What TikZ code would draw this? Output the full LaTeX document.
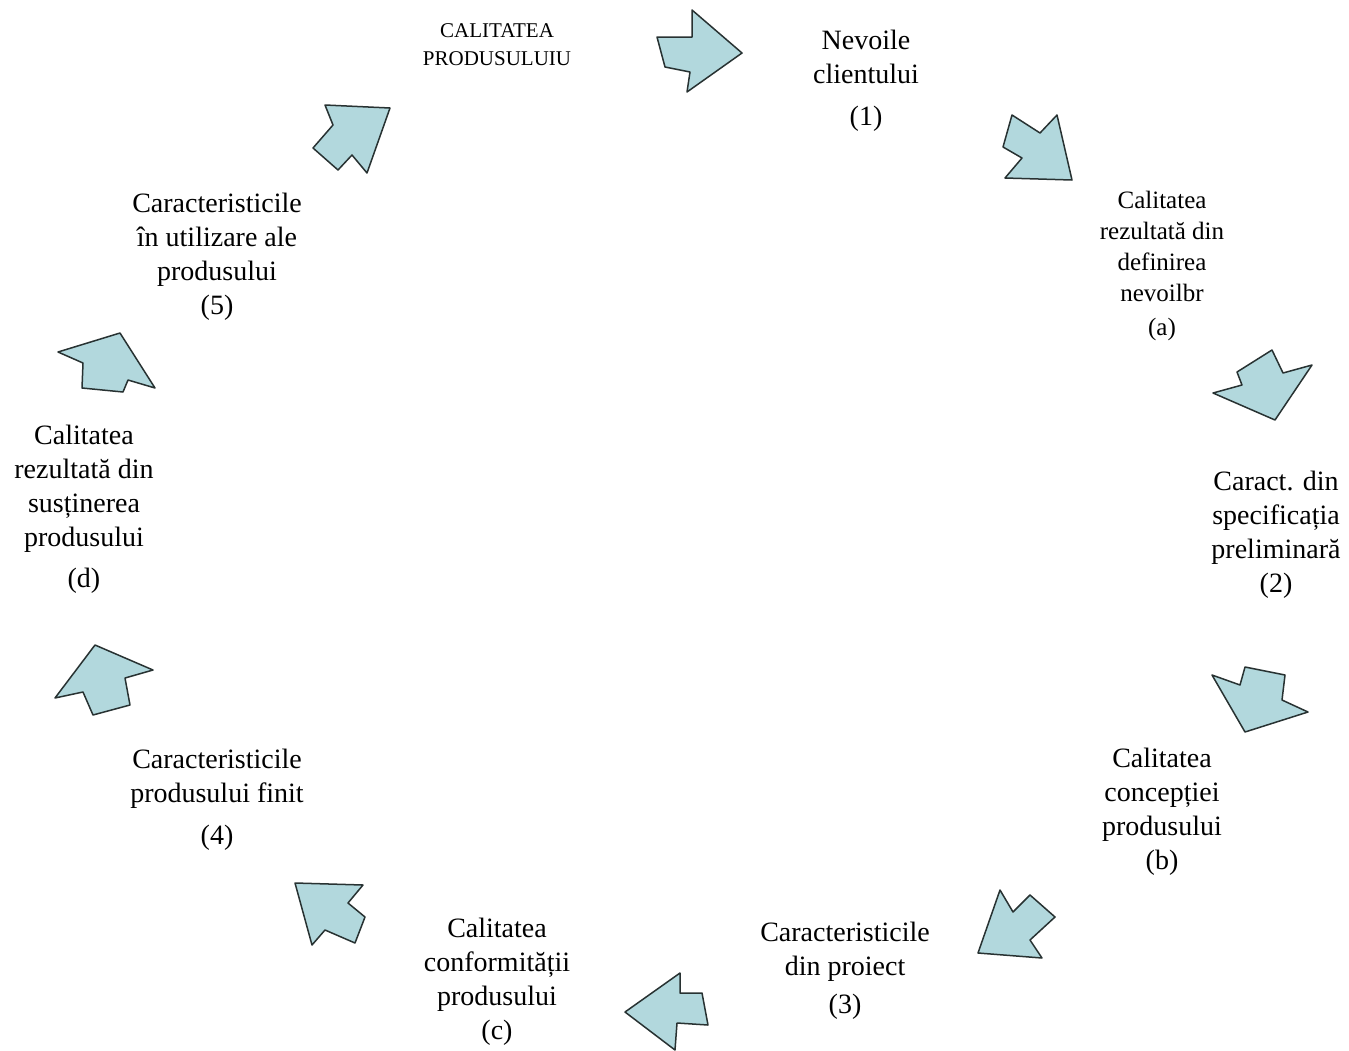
\documentclass[tikz,border=0pt]{standalone}
\usepackage{fontspec}
\setmainfont{Liberation Serif}
\definecolor{arrfill}{RGB}{178,216,221}
\definecolor{arrline}{RGB}{40,50,50}
\begin{document}
\begin{tikzpicture}[x=1pt,y=-1pt,
  cyc/.style={fill=arrfill,draw=arrline,line width=1.5pt,line join=round},
  lbl/.style={align=center,inner sep=0pt,anchor=base,font=\fontsize{28}{34}\selectfont},
  lbls/.style={align=center,inner sep=0pt,anchor=base,font=\fontsize{25}{31}\selectfont},
  ttl/.style={align=center,inner sep=0pt,anchor=base,font=\fontsize{21}{28}\selectfont}]
\useasboundingbox (0,0) rectangle (1349,1050);
\fill[white] (0,0) rectangle (1349,1050);
% arrows
\draw[cyc] (657,37) -- (692,37) -- (692,10) -- (742,53) -- (687,92) -- (690,72) -- (665,67) -- cycle;
\draw[cyc] (1012,115) -- (1040,133) -- (1057,115) -- (1072,180) -- (1005,178) -- (1022,158) -- (1003,147) -- cycle;
\draw[cyc] (1237,372) -- (1272,350) -- (1283,373) -- (1312,365) -- (1275,420) -- (1213,393) -- (1242,385) -- cycle;
\draw[cyc] (1212,675) -- (1240,685) -- (1245,667) -- (1285,675) -- (1282,700) -- (1308,712) -- (1245,732) -- cycle;
\draw[cyc] (1000,890) -- (1013,912) -- (1030,895) -- (1055,917) -- (1030,940) -- (1042,958) -- (978,953) -- cycle;
\draw[cyc] (625,1012) -- (680,973) -- (680,993) -- (702,993) -- (708,1025) -- (677,1023) -- (675,1050) -- cycle;
\draw[cyc] (295,883) -- (363,885) -- (348,903) -- (365,917) -- (355,943) -- (325,930) -- (312,945) -- cycle;
\draw[cyc] (55,698) -- (95,645) -- (153,670) -- (125,678) -- (130,705) -- (93,715) -- (83,692) -- cycle;
\draw[cyc] (58,352) -- (120,333) -- (155,388) -- (128,380) -- (123,392) -- (82,388) -- (83,363) -- cycle;
\draw[cyc] (325,105) -- (390,108) -- (367,173) -- (352,155) -- (338,170) -- (313,148) -- (333,125) -- cycle;
% labels (anchor = baseline of last line)
\node[ttl] (t0) at (497,65) {CALITATEA\\PRODUSULUIU};
\node[lbl] (t1) at (866,125) {Nevoile\\clientului\\[8pt](1)};
\node[lbls] (ta) at (1162,335) {Calitatea\\rezultată din\\definirea\\nevoilbr\\[3pt](a)};
\node[lbl] (t2) at (1276,592) {Caract. din\\specificația\\preliminară\\(2)};
\node[lbl] (tb) at (1162,869) {Calitatea\\concepției\\produsului\\(b)};
\node[lbl] (t3) at (845,1013) {Caracteristicile\\din proiect\\[4pt](3)};
\node[lbl] (tc) at (497,1039) {Calitatea\\conformității\\produsului\\(c)};
\node[lbl] (t4) at (217,844) {Caracteristicile\\produsului finit\\[8pt](4)};
\node[lbl] (td) at (84,587) {Calitatea\\rezultată din\\susținerea\\produsului\\[7pt](d)};
\node[lbl] (t5) at (217,314) {Caracteristicile\\în utilizare ale\\produsului\\(5)};
\end{tikzpicture}
\end{document}
